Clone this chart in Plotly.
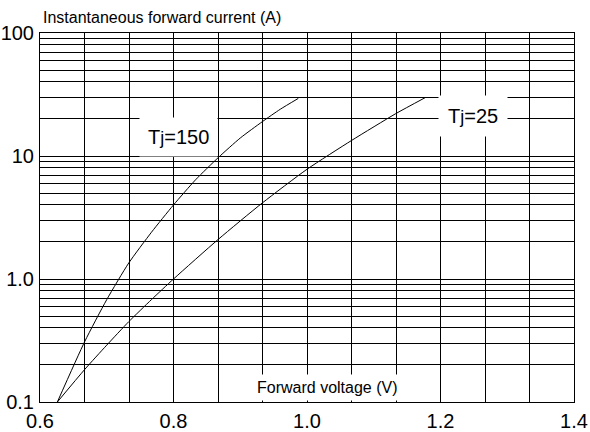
import plotly.graph_objects as go
import numpy as np

# Data
v_150 = [0.626, 0.667, 0.700, 0.733, 0.767, 0.800, 0.833, 0.867, 0.900, 0.933, 0.960, 0.987]
i_150 = [0.1, 0.31, 0.68, 1.35, 2.4, 4.0, 6.4, 9.7, 14.0, 19.0, 24.0, 29.4]

v_25 = [0.626, 0.667, 0.700, 0.733, 0.767, 0.800, 0.867, 0.933, 1.000, 1.067, 1.133, 1.177]
i_25 = [0.1, 0.184, 0.29, 0.45, 0.68, 1.0, 2.1, 4.15, 7.8, 13.4, 22.1, 29.8]

x_labels = ["0.6", "0.8", "1.0", "1.2", "1.4"]
y_labels = ["0.1", "1.0", "10", "100"]

# grid positions
x_grid = [0.6 + k * 0.2 / 3 for k in range(13)]
x_text = []
for k in range(13):
    x_text.append(x_labels[k // 3] if k % 3 == 0 else "")
y_grid = []
y_text = []
for d, lab in zip([0.1, 1, 10], y_labels[:3]):
    for m in range(1, 10):
        y_grid.append(d * m)
        y_text.append(lab if m == 1 else "")
y_grid.append(100)
y_text.append("100")

FONT = "Liberation Sans, Arial, sans-serif"

fig = go.Figure()
fig.add_trace(go.Scatter(x=v_150, y=i_150, mode="lines",
                         line=dict(color="black", width=1, shape="spline", smoothing=0.6),
                         showlegend=False, hoverinfo="skip"))
fig.add_trace(go.Scatter(x=v_25, y=i_25, mode="lines",
                         line=dict(color="black", width=1, shape="spline", smoothing=0.6),
                         showlegend=False, hoverinfo="skip"))

fig.update_layout(
    width=590, height=432,
    margin=dict(l=40, r=16, t=33, b=30, autoexpand=False),
    paper_bgcolor="white", plot_bgcolor="white",
    font=dict(family=FONT, color="black"),
    xaxis=dict(range=[0.6, 1.4], tickmode="array", tickvals=x_grid, ticktext=x_text,
               showgrid=True, gridcolor="black", gridwidth=1, zeroline=False,
               showline=True, linecolor="black", linewidth=1, mirror=True, automargin=False,
               ticks="", tickfont=dict(size=20, family=FONT), ticklabelstandoff=1),
    yaxis=dict(type="log", range=[-1, 2], tickmode="array", tickvals=y_grid, ticktext=y_text,
               showgrid=True, gridcolor="black", gridwidth=1, zeroline=False,
               showline=True, linecolor="black", linewidth=1, mirror=True, automargin=False,
               ticks="", tickfont=dict(size=20, family=FONT), ticklabelstandoff=1),
)

fig.add_annotation(text="Instantaneous forward current (A)", xref="paper", yref="paper",
                   x=0, y=1, xanchor="left", yanchor="bottom", xshift=1, yshift=5,
                   showarrow=False, font=dict(size=16, family=FONT))
fig.add_annotation(text="Forward voltage (V)", x=1.031, y=np.log10(0.132),
                   showarrow=False, font=dict(size=16, family=FONT),
                   bgcolor="white", borderpad=4)
fig.add_annotation(text="T<span style='font-size:18px'>j</span>=150", x=0.807, y=np.log10(14.3),
                   showarrow=False, font=dict(size=20, family=FONT),
                   bgcolor="white", borderpad=8)
fig.add_annotation(text="T<span style='font-size:18px'>j</span>=25", x=1.249, y=np.log10(21.1),
                   showarrow=False, font=dict(size=20, family=FONT),
                   bgcolor="white", borderpad=9)

fig.write_html("out.html", config={"displayModeBar": False},
               post_script="document.body.style.margin='0';document.body.style.overflow='hidden';")
